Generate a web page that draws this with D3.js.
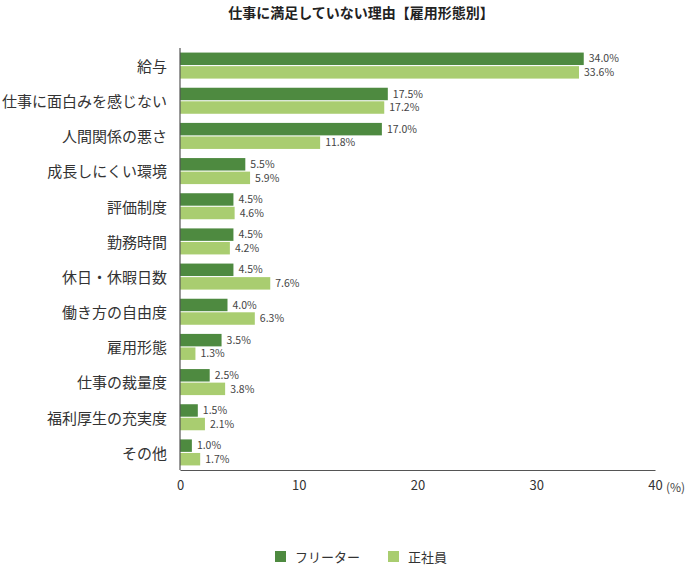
<!DOCTYPE html>
<html>
<head>
<meta charset="utf-8">
<script src="https://cdn.jsdelivr.net/npm/d3@7"></script>
<style>
  body { margin: 0; background: #fff; }
  svg text { font-family: "Noto Sans CJK JP", "Noto Sans", sans-serif; }
</style>
</head>
<body>
<div id="chart"></div>
<script>
// 集計データ（％）
const categories = [
    "給与", "仕事に面白みを感じない", "人間関係の悪さ", "成長しにくい環境",
    "評価制度", "勤務時間", "休日・休暇日数", "働き方の自由度",
    "雇用形態", "仕事の裁量度", "福利厚生の充実度", "その他"
];
const seriesNames = ["フリーター", "正社員"];
const freeterValues = [34.0, 17.5, 17.0, 5.5, 4.5, 4.5, 4.5, 4.0, 3.5, 2.5, 1.5, 1.0];
const seishainValues = [33.6, 17.2, 11.8, 5.9, 4.6, 4.2, 7.6, 6.3, 1.3, 3.8, 2.1, 1.7];
const xTicks = [0, 10, 20, 30, 40];

const colors = ["#4e8a40", "#a9cd70"];
const width = 700, height = 572;
const margin = { top: 48, right: 45, bottom: 102, left: 180 };

const svg = d3.select("#chart").append("svg")
    .attr("width", width)
    .attr("height", height);

// タイトル
svg.append("text")
    .attr("x", 361)
    .attr("y", 18)
    .attr("text-anchor", "middle")
    .attr("font-size", "14px")
    .attr("font-weight", "bold")
    .attr("fill", "#222")
    .text("仕事に満足していない理由【雇用形態別】");

const x = d3.scaleLinear()
    .domain([0, 40])
    .range([margin.left, width - margin.right]);

const y = d3.scaleBand()
    .domain(categories)
    .range([margin.top, height - margin.bottom])
    .paddingInner(0.26)
    .paddingOuter(0.13);

const ySub = d3.scaleBand()
    .domain([0, 1])
    .range([0, y.bandwidth()])
    .paddingInner(0.08);

const rows = categories.map((c, i) => ({
    name: c,
    values: [freeterValues[i], seishainValues[i]]
}));

// 棒
const groups = svg.selectAll(".group")
    .data(rows)
    .enter()
    .append("g")
    .attr("class", "group")
    .attr("transform", d => `translate(0,${y(d.name)})`);

groups.selectAll("rect")
    .data(d => d.values)
    .enter()
    .append("rect")
    .attr("x", x(0))
    .attr("y", (d, j) => ySub(j))
    .attr("width", d => x(d) - x(0))
    .attr("height", ySub.bandwidth())
    .attr("fill", (d, j) => colors[j]);

// 数値ラベル
groups.selectAll(".value-label")
    .data(d => d.values)
    .enter()
    .append("text")
    .attr("class", "value-label")
    .attr("x", d => x(d) + 5)
    .attr("y", (d, j) => ySub(j) + ySub.bandwidth() / 2)
    .attr("dy", "0.35em")
    .attr("font-size", "10.5px")
    .attr("fill", "#444")
    .text(d => d.toFixed(1) + "%");

// カテゴリラベル
svg.selectAll(".cat-label")
    .data(categories)
    .enter()
    .append("text")
    .attr("class", "cat-label")
    .attr("x", margin.left - 13)
    .attr("y", d => y(d) + y.bandwidth() / 2 + 1)
    .attr("dy", "0.35em")
    .attr("text-anchor", "end")
    .attr("font-size", "15px")
    .attr("fill", "#333")
    .text(d => d);

// X軸
const xAxis = svg.append("g")
    .attr("transform", `translate(0,${height - margin.bottom})`)
    .call(d3.axisBottom(x).tickValues(xTicks).tickSize(0).tickPadding(11));
xAxis.select(".domain").attr("stroke", "#555").attr("stroke-width", 1.2);
xAxis.selectAll("text")
    .attr("font-size", "13px")
    .attr("fill", "#333")
    .style("font-family", "'Noto Sans CJK JP', sans-serif");

svg.append("text")
    .attr("x", x(40) + 11)
    .attr("y", height - margin.bottom + 22)
    .attr("font-size", "12px")
    .attr("fill", "#444")
    .text("(%)");

// Y軸線
svg.append("line")
    .attr("x1", x(0))
    .attr("x2", x(0))
    .attr("y1", margin.top)
    .attr("y2", height - margin.bottom)
    .attr("stroke", "#555")
    .attr("stroke-width", 1.2);

// 凡例
const legendX = [275, 388];
const legend = svg.selectAll(".legend")
    .data(seriesNames)
    .enter()
    .append("g")
    .attr("class", "legend")
    .attr("transform", (d, i) => `translate(${legendX[i]},557)`);

legend.append("rect")
    .attr("x", 0)
    .attr("y", -6)
    .attr("width", 11)
    .attr("height", 11)
    .attr("fill", (d, i) => colors[i]);

legend.append("text")
    .attr("x", 20)
    .attr("y", 0)
    .attr("dy", "0.35em")
    .attr("font-size", "13px")
    .attr("fill", "#333")
    .text(d => d);
</script>
</body>
</html>
